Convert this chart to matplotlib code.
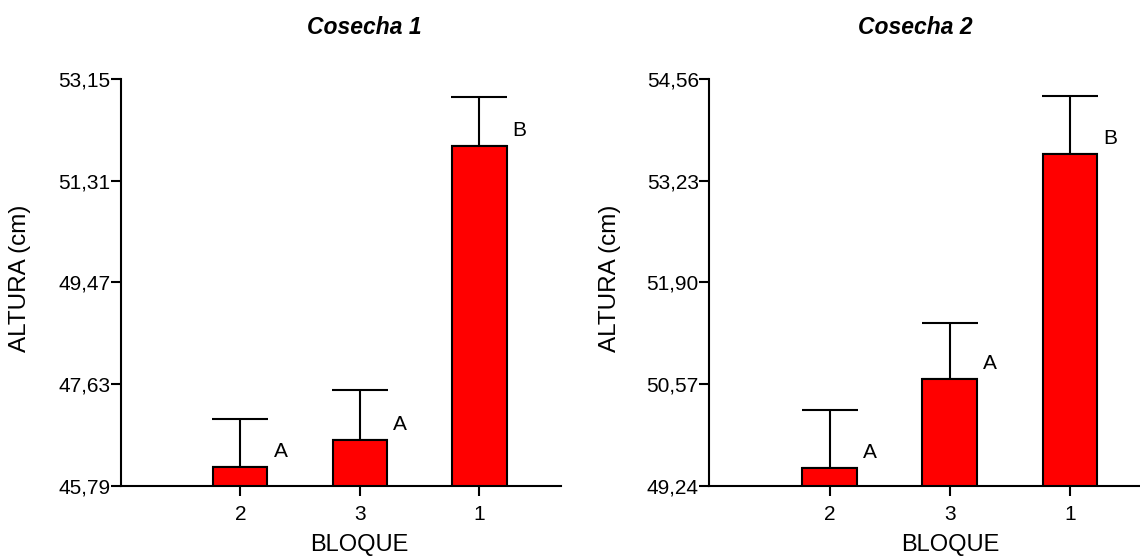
import numpy as np
import matplotlib
matplotlib.use("Agg")
import matplotlib.pyplot as plt

plt.rcParams['font.family'] = ['Liberation Sans', 'DejaVu Sans']

bloques = ['2', '3', '1']
letras = ['A', 'A', 'B']

# Cosecha 1
media_c1 = [46.13, 46.63, 51.94]
error_c1 = [0.88, 0.89, 0.89]
ticks_c1 = [45.79, 47.63, 49.47, 51.31, 53.15]

# Cosecha 2
media_c2 = [49.48, 50.64, 53.58]
error_c2 = [0.75, 0.73, 0.76]
ticks_c2 = [49.24, 50.57, 51.90, 53.23, 54.56]

fig = plt.figure(figsize=(11.4, 5.57), dpi=100)
ax1 = fig.add_axes([0.1059, 0.1275, 0.3859, 0.7307])
ax2 = fig.add_axes([0.6222, 0.1275, 0.3775, 0.7307])

def panel(ax, media, error, ticks, xmax, lblx):
    x = np.arange(len(bloques))
    ax.bar(x, media, width=0.455, color='#ff0000', edgecolor='black',
           linewidth=1.5, zorder=2, bottom=0)
    ax.errorbar(x, media, yerr=[np.zeros(len(error)), error], fmt='none',
                ecolor='black', elinewidth=1.5, capsize=20, capthick=1.5, zorder=1)
    for i in range(len(x)):
        ax.annotate(letras[i], xy=(x[i], media[i]), xytext=(29, 11),
                    textcoords='offset points', ha='center', va='center',
                    fontsize=15)
    ax.set_ylim(ticks[0], ticks[-1])
    ax.set_xlim(-1, xmax)
    ax.set_yticks(ticks)
    ax.set_yticklabels([('%.2f' % t).replace('.', ',') for t in ticks])
    ax.set_xticks(x)
    ax.set_xticklabels(bloques)
    for s in ['top', 'right']:
        ax.spines[s].set_visible(False)
    for s in ['left', 'bottom']:
        ax.spines[s].set_linewidth(1.5)
    ax.tick_params(axis='y', direction='out', length=7, width=1.5, pad=0.5, labelsize=15)
    ax.tick_params(axis='x', direction='out', length=7, width=1.5, pad=7, labelsize=15)
    ax.set_ylabel('ALTURA (cm)', fontsize=17.5)
    ax.yaxis.set_label_coords(-0.205, 0.51)
    ax.set_xlabel('BLOQUE', fontsize=17)
    ax.xaxis.set_label_coords(lblx, -0.117)
    ax.xaxis.label.set_va('top')

panel(ax1, media_c1, error_c1, ticks_c1, 2.68, 0.5416)
panel(ax2, media_c2, error_c2, ticks_c2, 2.58, 0.56)

fig.text(0.320, 1 - 34 / 557, 'Cosecha 1', ha='center', va='baseline',
         fontsize=16.5, fontweight='bold', fontstyle='italic')
fig.text(0.803, 1 - 34 / 557, 'Cosecha 2', ha='center', va='baseline',
         fontsize=16.5, fontweight='bold', fontstyle='italic')

fig.savefig('out.png', dpi=100)
